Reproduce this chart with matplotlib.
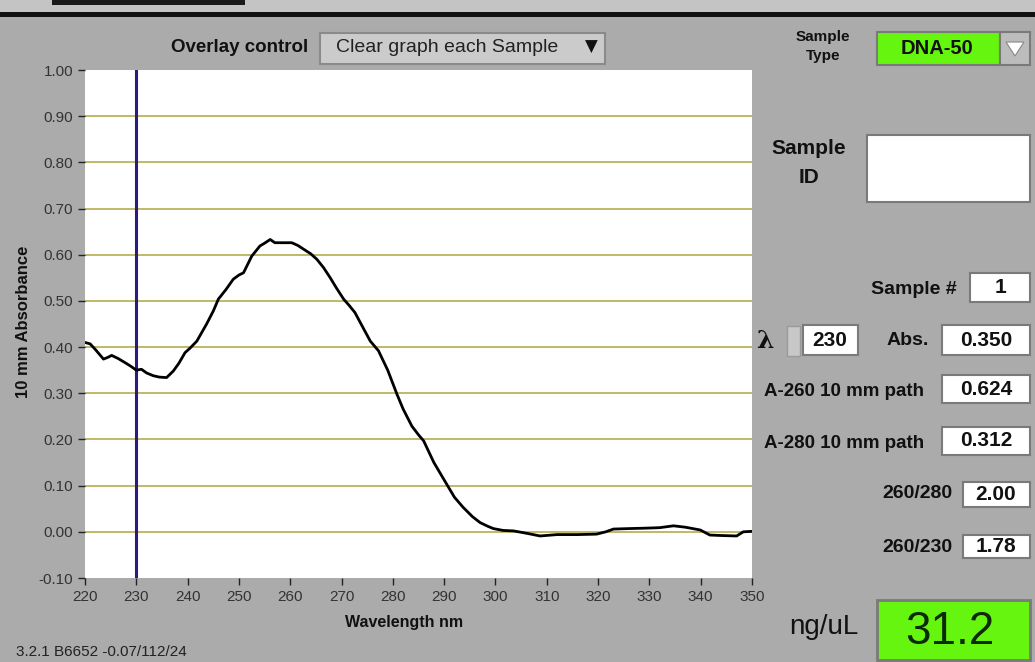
import matplotlib
matplotlib.use("Agg")
import matplotlib.pyplot as plt
from matplotlib.patches import Rectangle, Polygon

# SPECTRUM DATA
wavelength = [
    220, 221, 222, 223.6, 224.5, 225.2, 226.5, 228, 229, 230,
    231, 232, 233.3, 234.5, 235.9, 237.2, 238.3, 239.5, 240.5, 241.8,
    243.7, 245, 246, 247.5, 248.9, 250, 250.9, 252.5, 254.1, 255,
    256.1, 257, 258.5, 260.3, 261.5, 262.6, 264, 265.2, 266.5, 267.8,
    269, 270.4, 271.5, 272.6, 274, 275.6, 277.2, 279, 280.8, 282,
    283.7, 285, 286, 288, 290.5, 292, 293.7, 295.5, 297, 298.5,
    299.6, 301.5, 303.5, 306, 308.7, 312, 316, 319.7, 321.5, 323,
    326, 329.5, 332, 334.7, 337, 339.9, 341.8, 344, 347, 348.3, 350,
]
absorbance = [
    0.410, 0.407, 0.395, 0.374, 0.378, 0.382, 0.375, 0.365, 0.358, 0.350,
    0.352, 0.344, 0.338, 0.335, 0.334, 0.348, 0.365, 0.388, 0.398, 0.413,
    0.450, 0.478, 0.504, 0.525, 0.547, 0.556, 0.561, 0.597, 0.619, 0.625,
    0.633, 0.626, 0.626, 0.626, 0.620, 0.612, 0.602, 0.590, 0.572, 0.550,
    0.528, 0.504, 0.490, 0.475, 0.446, 0.413, 0.392, 0.350, 0.298, 0.266,
    0.229, 0.210, 0.197, 0.150, 0.103, 0.075, 0.053, 0.033, 0.020, 0.012,
    0.007, 0.003, 0.002, -0.003, -0.009, -0.006, -0.006, -0.005, 0.000, 0.006,
    0.007, 0.008, 0.009, 0.013, 0.010, 0.004, -0.007, -0.008, -0.009, 0.000, 0.001,
]
cursor_wl = 230

x_ticks = [220, 230, 240, 250, 260, 270, 280, 290, 300, 310, 320, 330, 340, 350]
y_ticks = [-0.10, 0.00, 0.10, 0.20, 0.30, 0.40, 0.50, 0.60, 0.70, 0.80, 0.90, 1.00]

# readout panel values
sample_type = "DNA-50"
sample_num = "1"
lambda_val = "230"
abs_val = "0.350"
a260 = "0.624"
a280 = "0.312"
ratio_260_280 = "2.00"
ratio_260_230 = "1.78"
conc = "31.2"
footer = "3.2.1 B6652 -0.07/112/24"

W, H = 1035, 662
BG = "#ababab"
GREEN = "#66f50f"
NARROW = ["Liberation Sans Narrow", "Liberation Sans", "DejaVu Sans"]
BOLD = ["Liberation Sans", "DejaVu Sans"]

fig = plt.figure(figsize=(W / 100, H / 100), dpi=100, facecolor=BG)


def fx(x):
    return x / W


def fy(y):
    return 1 - y / H


def box(x0, y0, x1, y1, face="white", edge="#7a7a7a", lw=1.5):
    fig.add_artist(Rectangle((fx(x0), fy(y1)), fx(x1) - fx(x0), fy(y0) - fy(y1),
                             transform=fig.transFigure, facecolor=face,
                             edgecolor=edge, linewidth=lw))


def label(x, y, s, size=10, ha="center", weight="bold", family=BOLD, color="#111111"):
    fig.text(fx(x), fy(y), s, ha=ha, va="center", fontsize=size,
             fontweight=weight, family=family, color=color)


# top window strip
box(0, 0, W, 13, face="#c4c4c4", edge="none", lw=0)
box(52, 0, 245, 5, face="#1a1a1a", edge="none", lw=0)
box(0, 12, W, 17, face="#111111", edge="none", lw=0)

# MAIN PLOT
ax = fig.add_axes([fx(85), fy(578), fx(752) - fx(85), fy(70) - fy(578)])
ax.set_facecolor("white")
ax.set_xlim(220, 350)
ax.set_ylim(-0.10, 1.00)
for yv in y_ticks[1:-1]:
    ax.axhline(yv, color="#bab45a", linewidth=1.3, zorder=1)
ax.axvline(cursor_wl, color="#2e1a7e", linewidth=2.2, zorder=2)
ax.plot(wavelength, absorbance, color="black", linewidth=2, zorder=3)

ax.set_xticks(x_ticks)
ax.set_yticks(y_ticks)
ax.set_yticklabels([f"{v:.2f}" for v in y_ticks])
ax.tick_params(direction="out", length=5, width=1, color="#222222",
               labelsize=11, labelcolor="#333333")
for lab in ax.get_xticklabels() + ax.get_yticklabels():
    lab.set_family(NARROW)
for sp in ax.spines.values():
    sp.set_visible(False)

fig.text(fx(24), fy(322), "10 mm Absorbance", rotation=90, ha="center", va="center",
         fontsize=12, fontweight="bold", family=BOLD, color="#111111")
label(404, 623, "Wavelength nm", size=11.5)

# overlay control
label(240, 47, "Overlay control", size=13.5)
box(320, 33, 605, 64, face="#cbcbcb", edge="#8a8a8a")
label(447, 48, "Clear graph each Sample", size=14, weight="normal", family=NARROW,
      color="#222222")
label(591, 47, "\u25bc", size=12, family=["DejaVu Sans"])

# RIGHT PANEL
label(823, 37, "Sample", size=11)
label(823, 56, "Type", size=11)
box(877, 32, 1000, 65, face=GREEN, edge="#7a7a7a")
box(1000, 32, 1030, 65, face="#bcbcbc", edge="#7a7a7a")
label(937, 48, sample_type, size=14.5)
fig.add_artist(Polygon([(fx(1006), fy(42)), (fx(1024), fy(42)), (fx(1015), fy(56))],
                       closed=True, transform=fig.transFigure, facecolor="white",
                       edgecolor="#888888", linewidth=0.8))

label(809, 148, "Sample", size=15)
label(809, 177, "ID", size=15)
box(867, 135, 1030, 202)

label(957, 290, "Sample #", size=14, ha="right")
box(970, 273, 1030, 302)
label(1000, 288, sample_num, size=15)

label(765, 341, "\u03bb", size=18, family=["DejaVu Serif"])
box(787, 326, 800, 356, face="#c8c8c8", edge="#9a9a9a", lw=1)
box(803, 325, 858, 355)
label(830, 340, lambda_val, size=15)
label(908, 340, "Abs.", size=14)
box(942, 325, 1030, 355)
label(986, 340, abs_val, size=15)

label(844, 392, "A-260 10 mm path", size=13.5)
box(942, 375, 1030, 403)
label(986, 389, a260, size=15)

label(844, 443, "A-280 10 mm path", size=13.5)
box(942, 427, 1030, 455)
label(986, 441, a280, size=15)

label(917, 493, "260/280", size=14)
box(963, 482, 1030, 507)
label(996, 494, ratio_260_280, size=15)

label(917, 548, "260/230", size=14)
box(963, 535, 1030, 558)
label(996, 546, ratio_260_230, size=15)

label(824, 627, "ng/uL", size=20, weight="normal")
box(877, 600, 1030, 660, face=GREEN, edge="#7a7a7a", lw=2)
label(950, 632, conc, size=33, weight="normal", color="#0d2a08")

label(16, 652, footer, size=11, ha="left", weight="normal", family=NARROW, color="#222222")

fig.savefig("out.png", dpi=100, facecolor=BG)
